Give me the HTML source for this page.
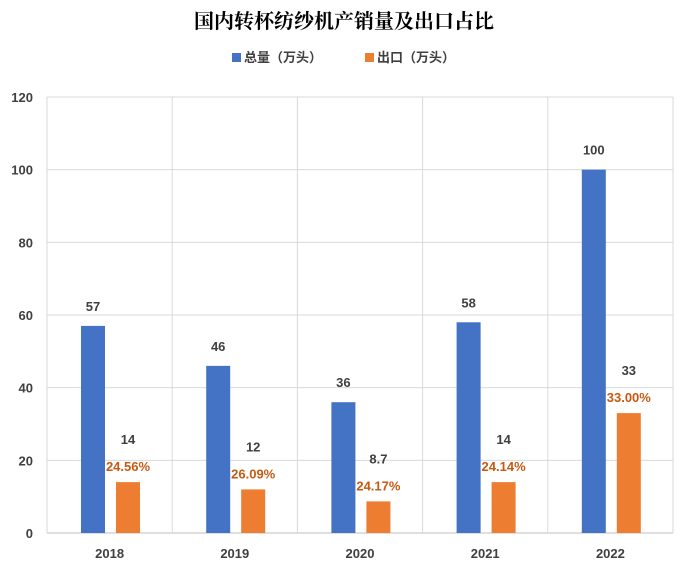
<!DOCTYPE html>
<html><head><meta charset="utf-8"><style>
body{margin:0;background:#fff;}
svg{display:block;font-family:"Liberation Sans","Noto Sans CJK SC",sans-serif;}
</style></head><body>
<svg id="chart" width="689" height="571">
<text x="344" y="28" text-anchor="middle" font-size="20" font-family="'Noto Serif CJK SC',serif" font-weight="bold" fill="#000">国内转杯纺纱机产销量及出口占比</text>
<g>
<rect x="232" y="53" width="9" height="9" fill="#4472C4"/>
<text x="244" y="62" font-size="13" font-weight="bold" fill="#404040">总量（万头）</text>
<rect x="365" y="53" width="9" height="9" fill="#ED7D31"/>
<text x="377" y="62" font-size="13" font-weight="bold" fill="#404040">出口（万头）</text>
</g>
<g id="plot"></g>
</svg>
<script>
const categories=["2018","2019","2020","2021","2022"];
const totals=[57,46,36,58,100];
const exportsV=[14,12,8.7,14,33];
const totalLabels=["57","46","36","58","100"];
const exportLabels=["14","12","8.7","14","33"];
const ratioLabels=["24.56%","26.09%","24.17%","24.14%","33.00%"];
const yTicks=[0,20,40,60,80,100,120];
const L=47,R=673,T=97,B=533,yMax=120;
const y=v=>B-(v/yMax)*(B-T);
const bw=(R-L)/categories.length;
const x=i=>L+i*bw;
const g=document.getElementById('plot');
const NS="http://www.w3.org/2000/svg";
function mk(tag,attrs,text){const e=document.createElementNS(NS,tag);for(const k in attrs)e.setAttribute(k,attrs[k]);if(text!=null)e.textContent=text;g.appendChild(e);return e;}
yTicks.forEach(t=>{
 const l=mk('line',{x1:L,x2:R,y1:y(t),y2:y(t),stroke:t===0?'#BFBFBF':'#D9D9D9','stroke-width':1});
 
 
 const tx=mk('text',{x:33,y:y(t)+5,'text-anchor':'end','font-size':13,'font-weight':'bold',fill:'#404040'},String(t));
 
 
});
for(let i=0;i<=categories.length;i++){
 const l=mk('line',{x1:x(i),x2:x(i),y1:T,y2:B,stroke:'#D9D9D9','stroke-width':1});
 
 
}
categories.forEach((c,i)=>{
 const cx=x(i);
 const b1=mk('rect',{x:cx+34,y:y(totals[i]),width:24,height:B-y(totals[i]),fill:'#4472C4'});
 
 
 const b2=mk('rect',{x:cx+69,y:y(exportsV[i]),width:24,height:B-y(exportsV[i]),fill:'#ED7D31'});
 
 
 const t1=mk('text',{x:cx+46,y:y(totals[i])-15,'text-anchor':'middle','font-size':13,'font-weight':'bold',fill:'#404040'},totalLabels[i]);
 
 
 const t2=mk('text',{x:cx+81,y:y(exportsV[i])-38,'text-anchor':'middle','font-size':13,'font-weight':'bold',fill:'#404040'},exportLabels[i]);
 
 
 const t3=mk('text',{x:cx+81,y:y(exportsV[i])-11,'text-anchor':'middle','font-size':13,'font-weight':'bold',fill:'#C55A11'},ratioLabels[i]);
 
 
 const t4=mk('text',{x:cx+bw/2,y:558,'text-anchor':'middle','font-size':13,'font-weight':'bold',fill:'#404040'},c);
 
 
});
</script>
</body></html>
